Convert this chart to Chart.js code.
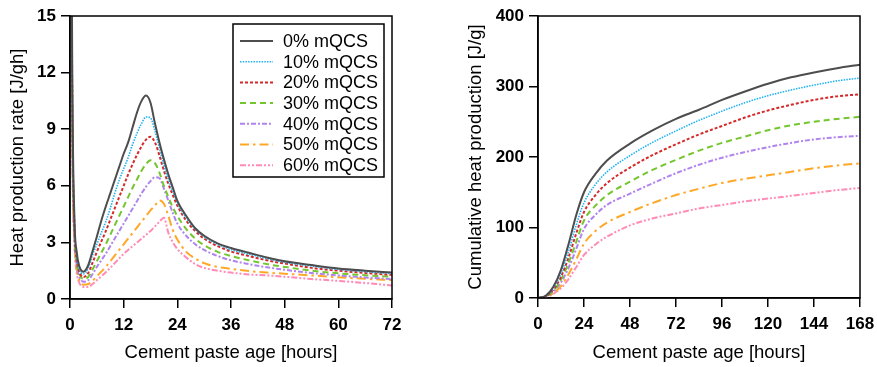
<!DOCTYPE html>
<html>
<head>
<meta charset="utf-8">
<script src="https://cdn.jsdelivr.net/npm/chart.js@4"></script>
<style>
  body { margin: 0; background: #fff; overflow: hidden; }
  .panel { position: absolute; top: 0; }
</style>
</head>
<body>
<div class="panel" style="left:0"><canvas id="rateChart" width="430" height="367"></canvas></div>
<div class="panel" style="left:458px"><canvas id="cumChart" width="424" height="367"></canvas></div>
<script>
// series names
const seriesLabels = ['0% mQCS', '10% mQCS', '20% mQCS', '30% mQCS', '40% mQCS', '50% mQCS', '60% mQCS'];

// left panel: heat production rate [J/gh] vs age [hours]
const rateHours = [0, 0.5, 1, 1.5, 2, 3, 4, 5, 6, 7, 8, 9, 10, 11, 12, 13, 14, 15, 16, 17, 18, 19, 20, 21, 22, 23, 24, 26, 28, 30, 33, 36, 40, 44, 48, 54, 60, 66, 72];
const rate0  = [40, 12, 4.2, 2.5, 1.8, 1.45, 1.75, 2.5, 3.3, 4.15, 4.9, 5.6, 6.3, 7.0, 7.7, 8.3, 9.1, 9.9, 10.5, 10.78, 10.4, 9.3, 8.3, 7.4, 6.6, 5.9, 5.2, 4.4, 3.75, 3.35, 2.95, 2.7, 2.45, 2.2, 2.0, 1.8, 1.62, 1.5, 1.4];
const rate10 = [40, 11.5, 4.0, 2.3, 1.65, 1.33, 1.6, 2.3, 2.9, 3.5, 4.1, 4.8, 5.6, 6.3, 6.9, 7.5, 8.2, 8.8, 9.3, 9.65, 9.6, 8.9, 8.0, 7.1, 6.35, 5.7, 5.1, 4.3, 3.7, 3.3, 2.9, 2.62, 2.38, 2.15, 1.95, 1.75, 1.57, 1.45, 1.35];
const rate20 = [40, 11, 3.8, 2.1, 1.5, 1.17, 1.35, 1.9, 2.5, 3.05, 3.6, 4.2, 4.8, 5.4, 6.0, 6.6, 7.15, 7.65, 8.1, 8.45, 8.6, 8.3, 7.6, 6.8, 6.1, 5.5, 4.95, 4.15, 3.6, 3.2, 2.8, 2.52, 2.28, 2.05, 1.88, 1.65, 1.5, 1.38, 1.28];
const rate30 = [40, 10.5, 3.6, 1.95, 1.4, 1.06, 1.15, 1.55, 2.0, 2.45, 2.9, 3.4, 3.9, 4.4, 4.9, 5.4, 5.9, 6.35, 6.8, 7.15, 7.35, 7.2, 6.7, 6.0, 5.4, 4.85, 4.4, 3.7, 3.2, 2.85, 2.5, 2.28, 2.05, 1.85, 1.7, 1.5, 1.36, 1.26, 1.18];
const rate40 = [40, 10, 3.4, 1.8, 1.25, 0.92, 0.98, 1.3, 1.7, 2.05, 2.4, 2.8, 3.2, 3.6, 4.0, 4.4, 4.8, 5.2, 5.6, 5.95, 6.25, 6.45, 6.4, 5.85, 5.2, 4.55, 4.0, 3.35, 2.9, 2.6, 2.28, 2.05, 1.85, 1.68, 1.55, 1.38, 1.25, 1.14, 1.06];
const rate50 = [40, 9.5, 3.2, 1.6, 1.05, 0.76, 0.78, 0.95, 1.2, 1.45, 1.7, 2.0, 2.3, 2.6, 2.9, 3.2, 3.5, 3.8, 4.1, 4.4, 4.7, 4.95, 5.22, 5.05, 4.4, 3.65, 3.15, 2.5, 2.15, 1.9, 1.7, 1.6, 1.48, 1.4, 1.34, 1.25, 1.15, 1.07, 1.0];
const rate60 = [40, 9, 3.0, 1.4, 0.9, 0.64, 0.63, 0.78, 1.0, 1.2, 1.42, 1.65, 1.9, 2.15, 2.4, 2.6, 2.8, 3.0, 3.2, 3.4, 3.6, 3.85, 4.1, 4.3, 3.5, 3.0, 2.65, 2.2, 1.85, 1.65, 1.5, 1.4, 1.3, 1.25, 1.18, 1.06, 0.96, 0.85, 0.72];

// right panel: cumulative heat production [J/g] vs age [hours]
const cumHours = [0, 4, 8, 12, 16, 20, 24, 30, 36, 48, 60, 72, 84, 96, 108, 120, 132, 144, 156, 168];
const cum0  = [0, 3, 16, 40, 77, 118, 150, 176, 195, 219, 238, 254, 267, 281, 293, 304, 313, 320, 326, 331];
const cum10 = [0, 3, 14, 35, 67, 104, 135, 161, 179, 202, 221, 237, 252, 265, 277, 287, 295, 302, 308, 312];
const cum20 = [0, 2.5, 12, 30, 58, 92, 122, 146, 163, 185, 203, 218, 232, 244, 256, 266, 274, 281, 286, 289];
const cum30 = [0, 2, 10, 26, 50, 80, 110, 131, 146, 165, 182, 196, 209, 220, 229, 238, 245, 250, 254, 257];
const cum40 = [0, 2, 9, 22, 43, 70, 98, 118, 132, 148, 163, 177, 189, 199, 207, 214, 220, 225, 228, 230];
const cum50 = [0, 1.5, 7, 17, 34, 55, 77, 95, 107, 122, 135, 146, 155, 163, 169, 174, 179, 184, 188, 191];
const cum60 = [0, 1, 6, 14, 27, 44, 61, 76, 87, 103, 113, 120, 127, 132, 137, 141, 145, 149, 153, 156];

// axis ticks
const rateTicks = [0, 3, 6, 9, 12, 15];
const rateHourTicks = [0, 12, 24, 36, 48, 60, 72];
const cumTicks = [0, 100, 200, 300, 400];
const cumHourTicks = [0, 24, 48, 72, 96, 120, 144, 168];

const FONT = '"Liberation Sans", Arial, sans-serif';

const lineStyles = [
    { color: '#4d4d4d', dash: [], width: 2 },
    { color: '#1fb2f2', dash: [1.5, 1.2], width: 1.6 },
    { color: '#d42a2a', dash: [3, 2], width: 2 },
    { color: '#74c62e', dash: [6, 4], width: 2 },
    { color: '#b084ee', dash: [5, 2, 2, 2], width: 2 },
    { color: '#ffa827', dash: [9, 4, 2.5, 4], width: 2 },
    { color: '#ff8bb6', dash: [6, 2, 2, 2, 2, 2], width: 2 }
];

function makeDatasets(hours, seriesList) {
    return seriesList.map((values, i) => ({
        label: seriesLabels[i],
        data: hours.map((h, k) => ({ x: h, y: values[k] })),
        borderColor: lineStyles[i].color,
        borderDash: lineStyles[i].dash,
        borderWidth: lineStyles[i].width,
        pointRadius: 0,
        fill: false,
        cubicInterpolationMode: 'monotone'
    }));
}

// black box around the plot area
const framePlugin = {
    id: 'frame',
    afterDraw(chart) {
        const { ctx, chartArea: a } = chart;
        ctx.save();
        ctx.strokeStyle = '#000';
        ctx.lineWidth = 1.5;
        ctx.strokeRect(a.left, a.top, a.right - a.left, a.bottom - a.top);
        ctx.restore();
    }
};

// boxed legend with line samples, top right of the plot area
const legendPlugin = {
    id: 'boxLegend',
    afterDraw(chart) {
        const { ctx, chartArea: a } = chart;
        const w = 151, h = 153;
        const x0 = a.right - 8 - w, y0 = a.top + 8;
        ctx.save();
        ctx.fillStyle = '#fff';
        ctx.fillRect(x0, y0, w, h);
        ctx.strokeStyle = '#000';
        ctx.lineWidth = 1.5;
        ctx.strokeRect(x0, y0, w, h);
        ctx.font = '18px ' + FONT;
        ctx.textBaseline = 'middle';
        chart.data.datasets.forEach((ds, i) => {
            const y = y0 + 17 + i * 20.7;
            ctx.strokeStyle = ds.borderColor;
            ctx.lineWidth = ds.borderWidth;
            ctx.setLineDash(ds.borderDash);
            ctx.beginPath();
            ctx.moveTo(x0 + 7, y);
            ctx.lineTo(x0 + 40, y);
            ctx.stroke();
            ctx.setLineDash([]);
            ctx.fillStyle = '#000';
            ctx.fillText(ds.label, x0 + 50, y + 1);
        });
        ctx.restore();
    }
};

function axis(min, max, step, tickList, title, isY, fitSize) {
    return {
        type: 'linear',
        min: min,
        max: max,
        afterBuildTicks: s => { s.ticks = tickList.map(v => ({ value: v })); },
        ticks: {
            stepSize: step,
            color: '#000',
            padding: isY ? 5 : 7,
            font: { family: FONT, size: 17, weight: 'bold' }
        },
        grid: { drawOnChartArea: false, color: '#000', lineWidth: 1.5, tickLength: 9 },
        border: { color: '#000', width: 1.5 },
        title: {
            display: true,
            text: title,
            color: '#000',
            font: { family: FONT, size: 18.5 },
            padding: isY ? { top: 7, bottom: 0 } : { top: 0, bottom: 3 }
        },
        afterFit: s => { if (isY) { s.width = fitSize; } else { s.height = fitSize; } }
    };
}

function makeChart(id, datasets, xAxis, yAxis, padding, plugins) {
    return new Chart(document.getElementById(id).getContext('2d'), {
        type: 'line',
        data: { datasets: datasets },
        options: {
            responsive: false,
            animation: false,
            devicePixelRatio: 1,
            layout: { padding: padding },
            plugins: { legend: { display: false }, tooltip: { enabled: false } },
            scales: { x: xAxis, y: yAxis }
        },
        plugins: plugins
    });
}

makeChart('rateChart',
    makeDatasets(rateHours, [rate0, rate10, rate20, rate30, rate40, rate50, rate60]),
    axis(0, 72, 12, rateHourTicks, 'Cement paste age [hours]', false, 68),
    axis(0, 15, 3, rateTicks, 'Heat production rate [J/gh]', true, 70),
    { top: 16, right: 38, left: 0, bottom: 0 },
    [framePlugin, legendPlugin]);

makeChart('cumChart',
    makeDatasets(cumHours, [cum0, cum10, cum20, cum30, cum40, cum50, cum60]),
    axis(0, 168, 24, cumHourTicks, 'Cement paste age [hours]', false, 69),
    axis(0, 400, 100, cumTicks, 'Cumulative heat production [J/g]', true, 80),
    { top: 16, right: 22, left: 0, bottom: 0 },
    [framePlugin]);
</script>
</body>
</html>
